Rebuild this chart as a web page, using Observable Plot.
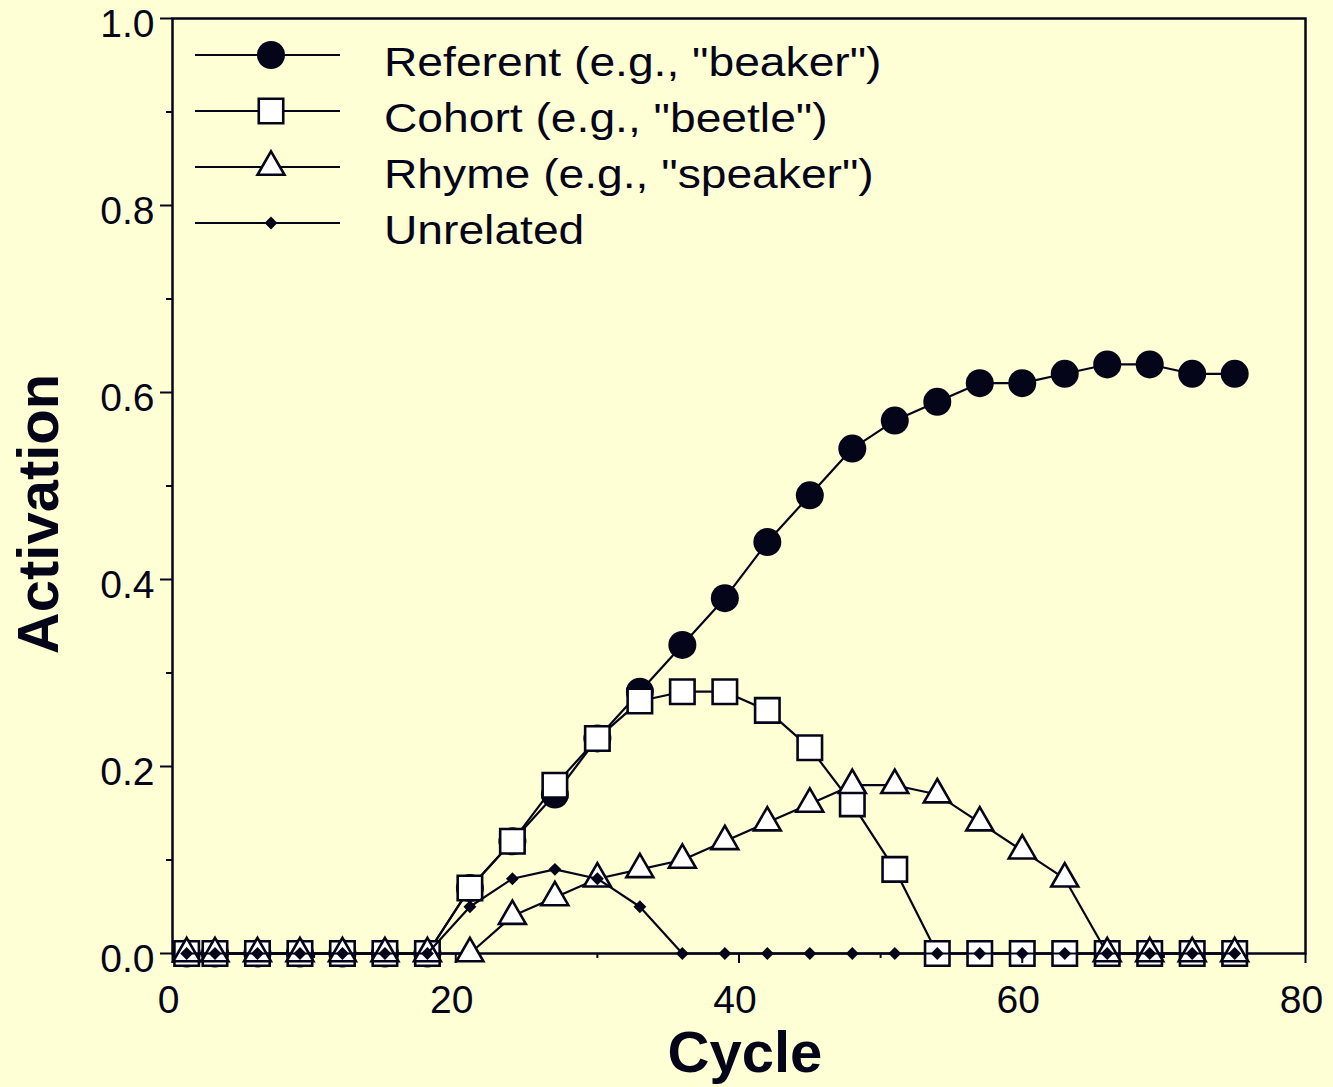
<!DOCTYPE html>
<html><head><meta charset="utf-8">
<script src="https://cdn.jsdelivr.net/npm/d3@7"></script>
<script src="https://cdn.jsdelivr.net/npm/@observablehq/plot@0.6"></script>
<style>
html,body{margin:0;padding:0;background:#FFFFD5;}
#chart{position:relative;width:1333px;height:1087px;}
svg{display:block}
</style></head><body><div id="chart"></div>
<script>
// ---- data ----
const cycles = [1,3,6,9,12,15,18,21,24,27,30,33,36,39,42,45,48,51,54,57,60,63,66,69,72,75];
const seriesNames = ['Referent (e.g., "beaker")', 'Cohort (e.g., "beetle")', 'Rhyme (e.g., "speaker")', 'Unrelated'];
const referent  = [0,0,0,0,0,0,0,0.07,0.12,0.17,0.23,0.28,0.33,0.38,0.44,0.49,0.54,0.57,0.59,0.61,0.61,0.62,0.63,0.63,0.62,0.62];
const cohort    = [0,0,0,0,0,0,0,0.07,0.12,0.18,0.23,0.27,0.28,0.28,0.26,0.22,0.16,0.09,0,0,0,0,0,0,0,0];
const rhyme     = [0,0,0,0,0,0,0,0,0.04,0.06,0.08,0.09,0.10,0.12,0.14,0.16,0.18,0.18,0.17,0.14,0.11,0.08,0,0,0,0];
const unrelated = [0,0,0,0,0,0,0,0.05,0.08,0.09,0.08,0.05,0,0,0,0,0,0,0,0,0,0,0,0,0,0];
const xMajorTicks = [0,20,40,60,80];
const xMinorTicks = [10,30,50,70];
const yMajorTicks = [0,0.2,0.4,0.6,0.8,1.0];
const yMinorTicks = [0.1,0.3,0.5,0.7,0.9];
const xTitle = "Cycle";
const yTitle = "Activation";

// ---- style ----
const INK = "#05051a";
const BG = "#FFFFD5";
const FONT = "'Liberation Sans', Arial, Helvetica, sans-serif";
const styles = [
  {symbol: "circle",   r: 14,   fill: INK,     stroke: "none", sw: 0},
  {symbol: "square",   r: 13.8, fill: "white", stroke: INK,    sw: 2.6},
  {symbol: "triangle", r: 10,   fill: "white", stroke: INK,    sw: 2.6},
  {symbol: "diamond2", r: 5.8,  fill: INK,     stroke: "none", sw: 0}
];
const seriesValues = [referent, cohort, rhyme, unrelated];
const rows = seriesNames.flatMap((name, i) =>
  cycles.map((c, j) => ({series: name, idx: i, cycle: c, activation: seriesValues[i][j]})));

const marks = [Plot.frame({stroke: INK, strokeWidth: 2.5})];
seriesNames.forEach((name, i) => {
  const data = rows.filter(d => d.idx === i);
  const s = styles[i];
  marks.push(Plot.line(data, {x: "cycle", y: "activation", stroke: INK, strokeWidth: 2.2}));
  marks.push(Plot.dot(data, {x: "cycle", y: "activation", symbol: s.symbol, r: s.r,
    fill: s.fill, stroke: s.stroke, strokeWidth: s.sw}));
});

const axisCommon = {label: null, stroke: INK, strokeWidth: 2, fill: INK, fontSize: 39, fontFamily: FONT};
marks.push(
  Plot.axisX({...axisCommon, ticks: xMajorTicks, tickSize: 10, tickFormat: () => ""}),
  Plot.axisX({...axisCommon, ticks: xMinorTicks, tickSize: 5, tickFormat: () => ""}),
  Plot.axisX({...axisCommon, ticks: xMajorTicks, tickSize: 0, tickPadding: 32, dx: -4, tickFormat: d3.format("d"), ariaLabel: "xlabels"}),
  Plot.axisY({...axisCommon, ticks: yMajorTicks, tickSize: 12, tickFormat: () => ""}),
  Plot.axisY({...axisCommon, ticks: yMinorTicks, tickSize: 6, tickFormat: () => ""}),
  Plot.axisY({...axisCommon, ticks: yMajorTicks, tickSize: 0, tickPadding: 18, dy: 6, tickFormat: d3.format(".1f"), ariaLabel: "ylabels"}),
  Plot.text([xTitle], {text: d => d, frameAnchor: "bottom", textAnchor: "middle", lineAnchor: "middle", dy: 100, dx: 6, fontSize: 58, fontWeight: "bold", fill: INK, fontFamily: FONT}),
  Plot.text([yTitle], {text: d => d, frameAnchor: "left", textAnchor: "middle", lineAnchor: "middle", dx: -133, dy: 28, rotate: -90, fontSize: 58, fontWeight: "bold", fill: INK, fontFamily: FONT})
);

const svg = Plot.plot({
  width: 1333, height: 1087,
  marginLeft: 172, marginRight: 28, marginTop: 18, marginBottom: 134,
  x: {domain: [0, 80]},
  y: {domain: [0, 1]},
  style: {background: BG, color: INK, fontFamily: FONT},
  marks
});

// stretch tick labels horizontally to match the wide original lettering
function stretch(nodes, s) {
  nodes.each(function() {
    const t = this.getAttribute("transform");
    if (t) this.setAttribute("transform", t + ` scale(${s},1)`);
    else {
      const x = +this.getAttribute("x") || 0;
      this.setAttribute("transform", `translate(${x},0) scale(${s},1) translate(${-x},0)`);
    }
  });
}
stretch(d3.select(svg).selectAll('g[aria-label="ylabels"] text'), 1.18);
stretch(d3.select(svg).selectAll('g[aria-label="xlabels"] text'), 1.08);

// legend (inside the plot, top-left)
const symMap = {circle: d3.symbolCircle, square: d3.symbolSquare, triangle: d3.symbolTriangle, diamond2: d3.symbolDiamond2};
const lg = d3.select(svg).append("g").attr("aria-label", "legend");
seriesNames.forEach((name, i) => {
  const s = styles[i];
  const y = 55 + i * 56;
  lg.append("line").attr("x1", 195).attr("x2", 340).attr("y1", y).attr("y2", y)
    .attr("stroke", INK).attr("stroke-width", 2.2);
  lg.append("path").attr("transform", `translate(271,${y})`)
    .attr("d", d3.symbol(symMap[s.symbol], Math.PI * s.r * s.r)())
    .attr("fill", s.fill).attr("stroke", s.stroke).attr("stroke-width", s.sw);
  lg.append("text").attr("transform", `translate(384,${y + 21}) scale(1.155,1)`)
    .attr("text-anchor", "start")
    .attr("font-size", 40).attr("font-family", FONT).attr("fill", INK).text(name);
});

document.getElementById("chart").appendChild(svg);
</script>
</body></html>
